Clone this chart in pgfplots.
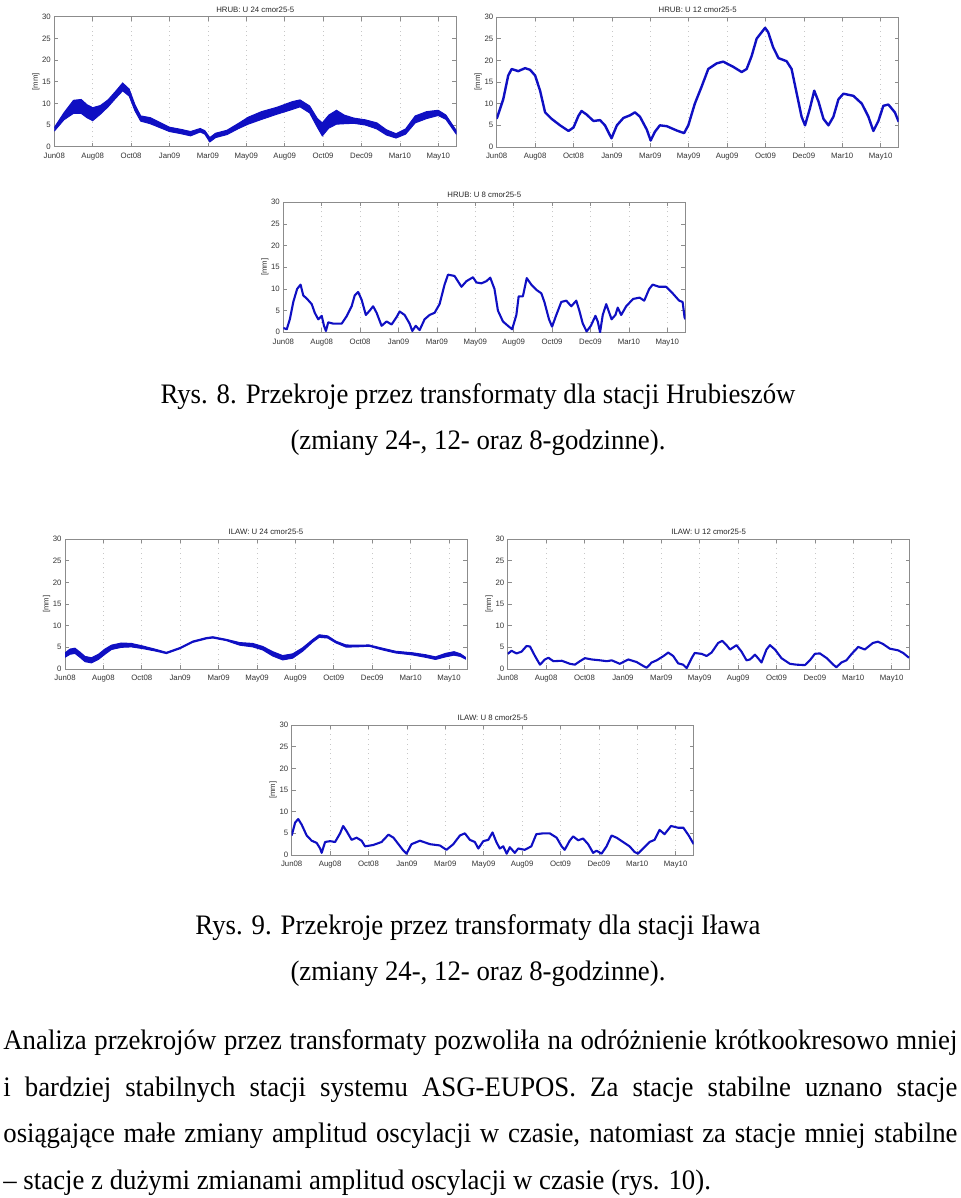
\documentclass[border=0pt]{standalone}
\usepackage{pgfplots}
\pgfplotsset{compat=1.18}
\usepackage{fontspec}
\setmainfont{Liberation Serif}[FakeStretch=0.95]
\newfontfamily\chartfont{Liberation Sans}
\newcommand\cf{\chartfont\fontsize{3.9}{4.5}\selectfont}
\definecolor{mblue}{RGB}{15,15,195}

\pgfplotsset{
  mat/.style={
    scale only axis, width=201pt, height=65pt, anchor=north west,
    xmin=0, xmax=10.47, ymin=0, ymax=30,
    xtick={0,...,10},
    xticklabels={Jun08,Aug08,Oct08,Jan09,Mar09,May09,Aug09,Oct09,Dec09,Mar10,May10},
    ytick={0,5,...,30},
    tick align=inside, major tick length=2pt,
    axis line style={black!45, line width=0.3pt},
    tick style={black!45, line width=0.3pt},
    xmajorgrids, grid style={black!22, dotted, line width=0.3pt},
    ticklabel style={font=\cf, text=black!80},
    /pgf/number format/assume math mode=true,
    every axis title shift=0pt,
    title style={font=\cf, text=black!85, inner sep=1pt, yshift=1pt},
    ylabel={[mm]},
    ylabel style={font=\cf, text=black!80, at={(axis description cs:-0.036,0.5)}, anchor=south, inner sep=0pt},
    xticklabel style={yshift=0.3pt},
    yticklabel style={xshift=1.8pt},
  },
  band/.style={fill=mblue, draw=mblue, line width=0.5pt},
  curve/.style={mblue, line width=1.05pt, line join=round},
}

\begin{document}
\begin{tikzpicture}
\path[use as bounding box] (0,0) rectangle (480pt,-599pt);

% HRUB U 24
\begin{axis}[mat, at={(27.15pt,-8.35pt)}, title={HRUB: U 24 cmor25-5}]
\addplot[band] coordinates {
(0.00,4.4) (0.25,7.8) (0.50,10.7) (0.70,10.9) (0.85,9.7) (1.00,9.0) (1.20,9.5)
(1.40,10.8) (1.60,12.8) (1.78,14.7) (1.95,13.3) (2.10,9.7) (2.25,7.1) (2.50,6.7)
(2.75,5.6) (3.00,4.5) (3.30,4.0) (3.55,3.5) (3.80,4.2) (3.92,3.7) (4.05,2.1)
(4.20,3.1) (4.50,3.8) (4.80,5.4) (5.05,6.8) (5.40,8.1) (5.80,9.1) (6.20,10.4)
(6.40,10.8) (6.65,9.4) (6.85,6.5) (6.98,5.5) (7.15,7.3) (7.35,8.4) (7.55,7.3)
(7.80,6.6) (8.10,6.2) (8.40,5.5) (8.65,3.9) (8.90,3.0) (9.15,4.1) (9.40,7.1)
(9.70,8.1) (10.00,8.4) (10.20,7.3) (10.47,3.7)
(10.47,2.9) (10.20,6.3) (10.00,7.2) (9.70,6.5) (9.40,5.5) (9.15,2.9) (8.90,2.0)
(8.65,2.7) (8.40,4.1) (8.10,5.0) (7.80,5.4) (7.55,5.3) (7.35,5.2) (7.15,4.3)
(6.98,2.5) (6.85,4.5) (6.65,7.8) (6.40,9.2) (6.20,8.6) (5.80,7.5) (5.40,6.3)
(5.05,5.2) (4.80,4.2) (4.50,2.8) (4.20,2.1) (4.05,1.1) (3.92,2.9) (3.80,3.4)
(3.55,2.5) (3.30,3.0) (3.00,3.5) (2.75,4.4) (2.50,5.3) (2.25,5.9) (2.10,8.3)
(1.95,11.7) (1.78,12.9) (1.60,11.2) (1.40,9.2) (1.20,7.5) (1.00,6.0) (0.85,6.7)
(0.70,7.7) (0.50,7.7) (0.25,6.2) (0.00,3.6)
};
\end{axis}

% HRUB U 12
\begin{axis}[mat, at={(248.35pt,-8.5pt)}, title={HRUB: U 12 cmor25-5}]
\addplot[curve, line width=1.2pt] coordinates {
(0.00,6.5) (0.17,11) (0.30,16.5) (0.39,18) (0.56,17.5) (0.74,18.2) (0.87,17.8)
(1.00,16.5) (1.13,13) (1.26,8) (1.43,6.5) (1.65,5) (1.87,3.7) (2.00,4.5)
(2.13,7.2) (2.21,8.3) (2.34,7.5) (2.52,6.0) (2.69,6.2) (2.82,5) (2.99,2)
(3.13,5) (3.30,6.7) (3.47,7.3) (3.60,8) (3.73,7) (3.91,4) (4.01,1.5)
(4.12,3.5) (4.25,5.0) (4.43,4.8) (4.69,3.8) (4.88,3.2) (4.99,5) (5.16,10)
(5.34,14) (5.51,18) (5.73,19.3) (5.90,19.7) (6.16,18.5) (6.38,17.3) (6.51,18)
(6.64,21) (6.77,25) (6.99,27.5) (7.07,26.5) (7.20,23) (7.34,20.5) (7.55,19.8)
(7.68,18) (7.81,12.5) (7.94,7) (8.03,5) (8.16,9) (8.27,13) (8.38,10.5)
(8.51,6.5) (8.64,5) (8.77,7) (8.90,11) (9.03,12.3) (9.29,11.8) (9.51,10)
(9.68,7) (9.81,3.7) (9.94,6) (10.07,9.5) (10.20,9.8) (10.37,8) (10.47,5.8)
};
\end{axis}

% HRUB U 8
\begin{axis}[mat, at={(141.65pt,-101.15pt)}, title={HRUB: U 8 cmor25-5}]
\addplot[curve] coordinates {
(0.00,1) (0.09,0.7) (0.17,3) (0.26,7) (0.36,10) (0.45,11) (0.52,8.5) (0.61,7.8)
(0.74,6.5) (0.82,4.5) (0.91,3) (1.00,3.8) (1.06,1.5) (1.11,0.3) (1.17,2.3)
(1.30,2) (1.52,2) (1.65,3.7) (1.78,6) (1.86,8.5) (1.95,9.3) (2.04,7.5)
(2.15,4) (2.25,5) (2.34,6) (2.43,4.5) (2.56,1.5) (2.69,2.5) (2.82,1.8)
(2.95,3.5) (3.03,4.8) (3.16,4) (3.29,2) (3.36,0.3) (3.45,1.5) (3.55,0.5)
(3.68,3) (3.81,4) (3.94,4.5) (4.07,6.5) (4.20,11) (4.29,13.3) (4.46,13)
(4.64,10.5) (4.77,11.8) (4.94,12.7) (5.03,11.5) (5.16,11.3) (5.29,11.8)
(5.39,12.6) (5.50,10) (5.59,5) (5.72,2.5) (5.85,1.5) (5.96,0.7) (6.07,4)
(6.13,8.3) (6.24,8.3) (6.34,12.5) (6.46,11) (6.59,9.8) (6.72,9) (6.80,7)
(6.92,3) (7.00,1.3) (7.11,4) (7.24,7) (7.37,7.3) (7.50,6) (7.63,7.3) (7.71,5)
(7.80,2) (7.90,0.2) (8.01,1.5) (8.13,3.8) (8.19,2.5) (8.25,0) (8.32,4)
(8.41,6.5) (8.49,4.5) (8.55,3) (8.65,4) (8.71,5.7) (8.80,4) (8.93,6)
(9.11,7.7) (9.28,8) (9.40,7.3) (9.53,10) (9.62,11) (9.79,10.5) (9.97,10.5)
(10.14,9) (10.31,7.3) (10.40,7) (10.45,3.5) (10.47,3)
};
\end{axis}

% ILAW U 24
\begin{axis}[mat, at={(32.5pt,-269.5pt)}, title={ILAW: U 24 cmor25-5}]
\addplot[band] coordinates {
(0.00,3.7) (0.13,4.6) (0.26,4.8) (0.39,3.9) (0.52,2.9) (0.69,2.6) (0.87,3.4)
(1.04,4.6) (1.21,5.5) (1.47,6.0) (1.73,5.9) (2.03,5.3) (2.38,4.5) (2.64,3.85)
(2.99,4.95) (3.33,6.45) (3.68,7.25) (3.85,7.45) (4.20,6.85) (4.55,6.1) (4.89,5.9)
(5.15,5.2) (5.41,4.0) (5.67,3.1) (5.93,3.5) (6.19,4.9) (6.45,6.8) (6.62,7.9)
(6.84,7.65) (7.06,6.4) (7.32,5.55) (7.58,5.5) (7.92,5.55) (8.27,4.8) (8.61,4.1)
(9.05,3.75) (9.39,3.3) (9.65,2.8) (9.91,3.6) (10.13,4.0) (10.30,3.5) (10.43,2.7)
(10.43,2.3) (10.30,2.9) (10.13,3.2) (9.91,2.8) (9.65,2.2) (9.39,2.7) (9.05,3.25)
(8.61,3.7) (8.27,4.4) (7.92,5.25) (7.58,5.1) (7.32,5.05) (7.06,6.0) (6.84,7.15)
(6.62,7.3) (6.45,6.2) (6.19,4.1) (5.93,2.5) (5.67,2.1) (5.41,3.0) (5.15,4.4)
(4.89,5.1) (4.55,5.5) (4.20,6.55) (3.85,7.15) (3.68,6.95) (3.33,6.15) (2.99,4.65)
(2.64,3.55) (2.38,4.1) (2.03,4.7) (1.73,5.1) (1.47,5.0) (1.21,4.5) (1.04,3.4)
(0.87,2.2) (0.69,1.4) (0.52,1.7) (0.39,2.7) (0.26,3.6) (0.13,3.4) (0.00,2.7)
};
\end{axis}

% ILAW U 12
\begin{axis}[mat, at={(253.85pt,-269.5pt)}, title={ILAW: U 12 cmor25-5}]
\addplot[curve] coordinates {
(0.00,3.5) (0.10,4.2) (0.23,3.6) (0.36,4) (0.49,5.3) (0.58,5.2) (0.71,3)
(0.84,1) (0.97,2.2) (1.06,2.6) (1.19,1.8) (1.41,1.9) (1.62,1.2) (1.75,1)
(1.88,1.8) (2.01,2.5) (2.19,2.2) (2.41,2) (2.58,1.8) (2.71,2) (2.92,1.2)
(3.14,2.2) (3.36,1.6) (3.53,0.7) (3.62,0.3) (3.75,1.5) (3.88,2) (4.06,3)
(4.18,3.8) (4.31,3) (4.44,1.3) (4.57,1) (4.66,0.2) (4.79,2.5) (4.87,3.7)
(5.05,3.5) (5.18,3) (5.31,3.8) (5.48,6) (5.59,6.5) (5.70,5.5) (5.79,4.5)
(5.96,5.5) (6.09,4) (6.22,2) (6.31,2.2) (6.44,3.3) (6.52,2.5) (6.61,1.5)
(6.74,4.5) (6.83,5.5) (6.96,4.5) (7.13,2.5) (7.35,1.2) (7.52,1) (7.74,0.9)
(7.87,2.0) (8.00,3.5) (8.13,3.6) (8.31,2.5) (8.48,1) (8.56,0.4) (8.69,1.5)
(8.82,2) (8.96,3.5) (9.13,5.1) (9.30,4.5) (9.51,6) (9.64,6.3) (9.77,5.8)
(9.95,4.7) (10.17,4.3) (10.30,3.7) (10.45,2.6)
};
\end{axis}

% ILAW U 8
\begin{axis}[mat, at={(145.85pt,-362.5pt)}, title={ILAW: U 8 cmor25-5}]
\addplot[curve] coordinates {
(0.00,4.5) (0.09,7.5) (0.17,8.3) (0.26,7) (0.39,4.5) (0.52,3.3) (0.65,2.8)
(0.74,1.5) (0.78,0.5) (0.87,3) (1.00,3.2) (1.13,3) (1.26,5) (1.34,6.7)
(1.43,5.5) (1.56,3.5) (1.69,4) (1.82,3.3) (1.91,2) (2.12,2.3) (2.34,3)
(2.52,4.7) (2.65,4) (2.78,2.5) (2.91,1) (2.99,0.3) (3.12,2.5) (3.34,3.3)
(3.60,2.5) (3.86,2.2) (4.03,1.2) (4.21,2.5) (4.38,4.5) (4.51,5) (4.64,3.5)
(4.77,3) (4.86,1.5) (4.99,3.2) (5.12,3.5) (5.23,5.2) (5.33,3) (5.42,1.5)
(5.51,2) (5.60,0.3) (5.68,1.8) (5.81,0.5) (5.90,1.5) (6.07,1.2) (6.24,2)
(6.37,4.8) (6.55,5) (6.72,5) (6.90,4) (7.03,2) (7.11,1.2) (7.24,3.3)
(7.33,4.3) (7.46,3.4) (7.59,3.8) (7.72,2.5) (7.85,0.5) (7.94,1) (8.07,0.3)
(8.20,2) (8.33,4.5) (8.46,4) (8.63,3) (8.80,2) (8.93,0.7) (9.02,0.3)
(9.15,1.5) (9.32,3) (9.45,3.5) (9.58,5.8) (9.71,4.8) (9.88,6.7) (10.06,6.3)
(10.20,6.3) (10.34,4.5) (10.47,2.5)
};
\end{axis}

\begin{scope}[every node/.style={font=\fontsize{14.1}{16}\selectfont}]
\node[anchor=base] at (239pt,-201.5pt) {Rys. 8. Przekroje przez transformaty dla stacji Hrubieszów};
\node[anchor=base] at (239pt,-224.5pt) {(zmiany 24-, 12- oraz 8-godzinne).};
\node[anchor=base] at (239pt,-467pt) {Rys. 9. Przekroje przez transformaty dla stacji Iława};
\node[anchor=base] at (239pt,-490pt) {(zmiany 24-, 12- oraz 8-godzinne).};
\node[anchor=base west, inner sep=0pt] at (1.5pt,-524.5pt) {\makebox[477pt][s]{Analiza przekrojów przez transformaty pozwoliła na odróżnienie krótkookresowo mniej}};
\node[anchor=base west, inner sep=0pt] at (1.5pt,-548pt) {\makebox[477pt][s]{i bardziej stabilnych stacji systemu ASG-EUPOS. Za stacje stabilne uznano stacje}};
\node[anchor=base west, inner sep=0pt] at (1.5pt,-571pt) {\makebox[477pt][s]{osiągające małe zmiany amplitud oscylacji w czasie, natomiast za stacje mniej stabilne}};
\node[anchor=base west, inner sep=0pt] at (1.5pt,-594.5pt) {– stacje z dużymi zmianami amplitud oscylacji w czasie (rys. 10).};
\end{scope}
\end{tikzpicture}
\end{document}
